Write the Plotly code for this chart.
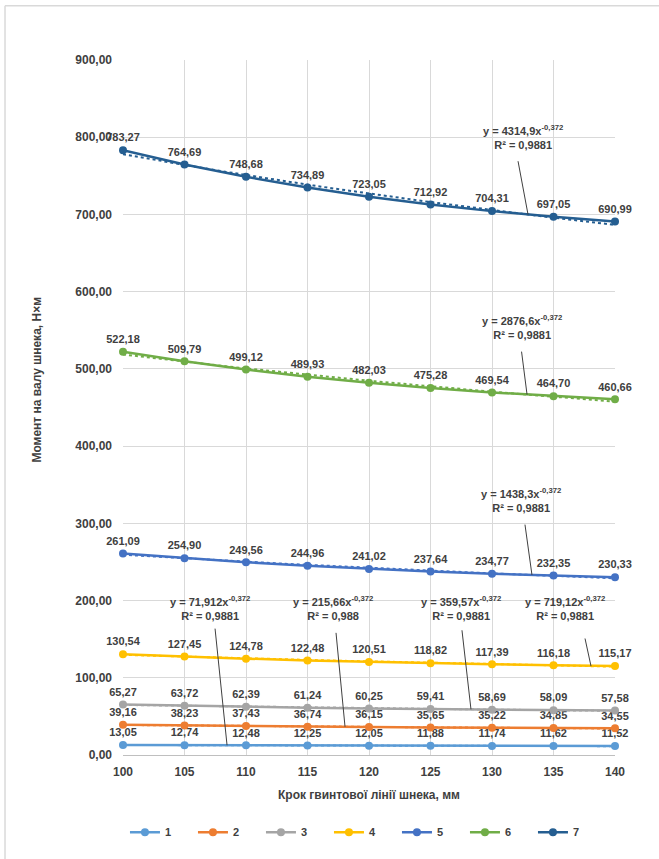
import plotly.graph_objects as go

# Screw pitch, mm
pitch = [100, 105, 110, 115, 120, 125, 130, 135, 140]

# Torque on the screw shaft, N·m, for series 1..7
s1 = [13.05, 12.74, 12.48, 12.25, 12.05, 11.88, 11.74, 11.62, 11.52]
s2 = [39.16, 38.23, 37.43, 36.74, 36.15, 35.65, 35.22, 34.85, 34.55]
s3 = [65.27, 63.72, 62.39, 61.24, 60.25, 59.41, 58.69, 58.09, 57.58]
s4 = [130.54, 127.45, 124.78, 122.48, 120.51, 118.82, 117.39, 116.18, 115.17]
s5 = [261.09, 254.90, 249.56, 244.96, 241.02, 237.64, 234.77, 232.35, 230.33]
s6 = [522.18, 509.79, 499.12, 489.93, 482.03, 475.28, 469.54, 464.70, 460.66]
s7 = [783.27, 764.69, 748.68, 734.89, 723.05, 712.92, 704.31, 697.05, 690.99]

series_names = ["1", "2", "3", "4", "5", "6", "7"]
series_values = [s1, s2, s3, s4, s5, s6, s7]
colors = ["#5B9BD5", "#ED7D31", "#A5A5A5", "#FFC000", "#4472C4", "#70AD47", "#255E91"]

# Power trendlines y = a * x^b
trend_a = [71.912, 215.66, 359.57, 719.12, 1438.3, 2876.6, 4314.9]
trend_a_text = ["71,912", "215,66", "359,57", "719,12", "1438,3", "2876,6", "4314,9"]
trend_b = -0.372
trend_r2_text = ["0,9881", "0,988", "0,9881", "0,9881", "0,9881", "0,9881", "0,9881"]

# Placement of the equation boxes (data coords) and their leader lines
eq_pos = [(107.07, 190.8), (117.07, 190.8), (127.48, 190.8), (135.93, 190.8),
          (132.36, 329.7), (132.44, 554.3), (132.52, 800.8)]
leader_x = [108.46, 118.05, 128.29, 138.05, 133.25, 132.85, 132.93]
leader_off = [(-12, -118), (-9, -95), (-9, -80), (-6, -28),
              (-7, -51), (-5.5, -43.5), (-10, -54)]   # tail offset in px

FONT = "Liberation Sans, Arial, sans-serif"
TXT = "#404040"

W, H = 659, 859
M = dict(l=123, r=44, t=60, b=96)
X_RANGE = [100, 140]
Y_RANGE = [0, 900]
px_per_x = (W - M["l"] - M["r"]) / (X_RANGE[1] - X_RANGE[0])
px_per_y = (H - M["t"] - M["b"]) / (Y_RANGE[1] - Y_RANGE[0])


def fmt(v):
    return f"{v:.2f}".replace(".", ",")


fig = go.Figure()

n_fine = 81
x_fine = [X_RANGE[0] + (X_RANGE[1] - X_RANGE[0]) * i / (n_fine - 1) for i in range(n_fine)]

for name, vals, col in zip(series_names, series_values, colors):
    fig.add_trace(go.Scatter(
        x=pitch, y=vals, name=name, mode="lines+markers+text",
        line=dict(color=col, width=2.5),
        marker=dict(color=col, size=8),
        text=[fmt(v) for v in vals], textposition="top center",
        textfont=dict(family=FONT, size=11, color=TXT, weight="bold"),
        cliponaxis=False,
    ))

for a, col in zip(trend_a, colors):
    fig.add_trace(go.Scatter(
        x=x_fine, y=[a * x ** trend_b for x in x_fine], mode="lines",
        line=dict(color=col, width=2, dash="dot"),
        showlegend=False, hoverinfo="skip",
    ))

annotations = []
shapes = []
for a, at, r2, (ex, ey), lx, (ox, oy) in zip(trend_a, trend_a_text, trend_r2_text,
                                             eq_pos, leader_x, leader_off):
    annotations.append(dict(
        x=ex, y=ey, xref="x", yref="y", showarrow=False,
        xanchor="center", yanchor="middle",
        text=f"y = {at}x<sup>-0,372</sup><br>R² = {r2}",
        font=dict(family=FONT, size=11, color=TXT, weight="bold"),
        align="center",
    ))
    ly = a * lx ** trend_b
    shapes.append(dict(
        type="line", xref="x", yref="y", layer="above",
        x0=lx + ox / px_per_x, y0=ly - oy / px_per_y, x1=lx, y1=ly,
        line=dict(color="#404040", width=1),
    ))

# Axis titles
annotations.append(dict(
    x=0.5, y=-0.057, xref="paper", yref="paper", showarrow=False,
    xanchor="center", yanchor="middle",
    text="Крок гвинтової лінії шнека, мм",
    font=dict(family=FONT, size=12, color=TXT, weight="bold"),
))
annotations.append(dict(
    x=-0.175, y=0.54, xref="paper", yref="paper", showarrow=False,
    xanchor="center", yanchor="middle",
    text="Момент на валу шнека, Н×м", textangle=-90,
    font=dict(family=FONT, size=12, color=TXT, weight="bold"),
))

# Chart-area frame (top and left edges)
shapes += [
    dict(type="line", xref="paper", yref="paper", x0=-0.2398, x1=1.2,
         y0=1.0782, y1=1.0782, line=dict(color="#D9D9D9", width=1.5)),
    dict(type="line", xref="paper", yref="paper", x0=-0.2398, x1=-0.2398,
         y0=1.0782, y1=-0.2, line=dict(color="#D9D9D9", width=1.5)),
]

fig.update_layout(
    width=W, height=H,
    margin=M,
    paper_bgcolor="white", plot_bgcolor="white",
    separators=", ",
    showlegend=True,
    legend=dict(
        orientation="h", x=0.004, xanchor="left", y=-0.111, yanchor="middle",
        font=dict(family=FONT, size=11, color=TXT, weight="bold"),
        entrywidth=23, entrywidthmode="pixels",
        bgcolor="rgba(0,0,0,0)",
    ),
    annotations=annotations,
    shapes=shapes,
)

fig.update_xaxes(
    range=X_RANGE, dtick=5, tick0=100,
    showgrid=True, gridcolor="#D9D9D9", gridwidth=1,
    showline=True, linecolor="#BFBFBF", linewidth=1,
    zeroline=False, ticks="",
    tickfont=dict(family=FONT, size=12, color=TXT, weight="bold"),
    ticklabelstandoff=6,
)
fig.update_yaxes(
    range=Y_RANGE, dtick=100, tick0=0, tickformat=".2f",
    showgrid=True, gridcolor="#D9D9D9", gridwidth=1,
    zeroline=False, ticks="",
    tickfont=dict(family=FONT, size=12, color=TXT, weight="bold"),
    ticklabelstandoff=10,
)

fig.write_html("out.html")
